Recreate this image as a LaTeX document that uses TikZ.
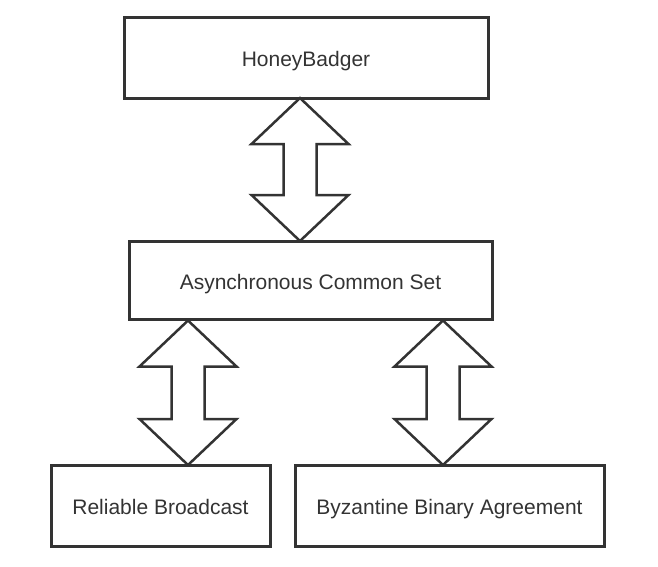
\documentclass[tikz,border=0pt]{standalone}
\usepackage{fontspec}
\setmainfont{Liberation Sans}
\usetikzlibrary{positioning,calc}
\definecolor{ink}{HTML}{333333}

\begin{document}
\begin{tikzpicture}[
    x=1pt, y=1pt,
    blk/.style={draw=ink, line width=3pt, text=ink, font=\fontsize{21}{24}\selectfont,
        inner sep=0pt, outer sep=0pt, text height=18.5pt, text depth=0pt},
    fat/.style={draw=ink, line width=2.5pt, line join=miter, fill=white}
]
    \useasboundingbox (0,0) rectangle (658,-566);

    \node[blk, minimum width=364pt, minimum height=81pt] (hb) at (306,-57.5) {HoneyBadger};
    \node[blk, minimum width=363pt, minimum height=78pt, below=143pt of hb, xshift=4.5pt] (acs) {Asynchronous Common Set};

    \node[blk, minimum width=219pt, minimum height=81pt] (rb) at (160.5,-505.5) {Reliable Broadcast};
    \node[blk, minimum width=309pt, minimum height=81pt, right=25pt of rb] (bba) {Byzantine Binary Agreement};

    % tips of the hollow double arrows
    \coordinate (t1) at ([xshift=-6pt]hb.south);
    \coordinate (b1) at ([xshift=-10.5pt]acs.north);
    \coordinate (t2) at ([xshift=-122.5pt,yshift=-1.5pt]acs.south);
    \coordinate (b2) at ([xshift=27.5pt]rb.north);
    \coordinate (t3) at ([xshift=132.5pt,yshift=-1.5pt]acs.south);
    \coordinate (b3) at ([xshift=-6.5pt]bba.north);

    \foreach \t/\b in {t1/b1, t2/b2, t3/b3}
        \draw[fat] (\t) -- ++(-48.5,-46) -- ++(32,0) -- ($(\b)+(-16.5,46)$) -- ++(-32,0)
              -- (\b) -- ++(48.5,46) -- ++(-32,0) -- ($(\t)+(16.5,-46)$) -- ++(32,0) -- cycle;

\end{tikzpicture}
\end{document}
